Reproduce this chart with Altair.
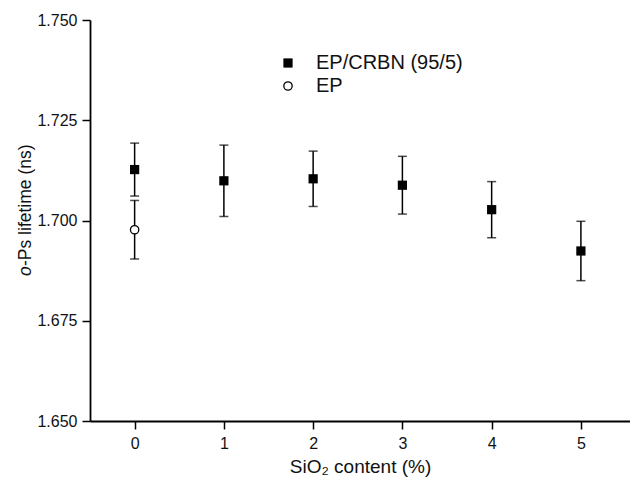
import altair as alt
import pandas as pd

sio2 = [0, 1, 2, 3, 4, 5]
ep_crbn = [1.7127, 1.7099, 1.7104, 1.7088, 1.7027, 1.6924]
ep_crbn_err = [0.0066, 0.0089, 0.0069, 0.0072, 0.0070, 0.0074]
ep_x = [0]
ep = [1.6977]
ep_err = [0.0073]
legend_labels = ["EP/CRBN (95/5)", "EP"]
y_ticks = [1.650, 1.675, 1.700, 1.725, 1.750]
x_ticks = [0, 1, 2, 3, 4, 5]

FONT = "Liberation Sans"

d1 = pd.DataFrame({"x": sio2, "y": ep_crbn, "err": ep_crbn_err})
d1["lo"] = d1["y"] - d1["err"]
d1["hi"] = d1["y"] + d1["err"]
d2 = pd.DataFrame({"x": ep_x, "y": ep, "err": ep_err})
d2["lo"] = d2["y"] - d2["err"]
d2["hi"] = d2["y"] + d2["err"]

xs = alt.Scale(domain=[-0.5, 5.55], nice=False, zero=False)
ys = alt.Scale(domain=[1.650, 1.750], nice=False, zero=False)

xax = alt.Axis(values=x_ticks, format="d", title="SiO₂ content (%)", grid=False,
               domainColor="black", domainWidth=1.8, tickColor="black", tickWidth=1.5,
               tickSize=8, labelFontSize=16, labelFont=FONT, labelColor="#111",
               labelPadding=6, titleFont=FONT, titleFontSize=19, titleFontWeight="normal",
               titleColor="#111", titlePadding=6)
yax = alt.Axis(values=y_ticks, format=".3f", title=None, grid=False,
               domainColor="black", domainWidth=1.8, tickColor="black", tickWidth=1.5,
               tickSize=8, labelFontSize=16, labelFont=FONT, labelColor="#111",
               labelPadding=5)

def layer_for(df, shape, filled):
    rule = alt.Chart(df).mark_rule(color="black", strokeWidth=1.5).encode(
        x=alt.X("x:Q", scale=xs, axis=xax), y=alt.Y("lo:Q", scale=ys, axis=yax), y2="hi:Q")
    cap_lo = alt.Chart(df).mark_tick(color="black", orient="horizontal", size=9, thickness=1.5).encode(
        x=alt.X("x:Q", scale=xs), y=alt.Y("lo:Q", scale=ys))
    cap_hi = alt.Chart(df).mark_tick(color="black", orient="horizontal", size=9, thickness=1.5).encode(
        x=alt.X("x:Q", scale=xs), y=alt.Y("hi:Q", scale=ys))
    pt = alt.Chart(df).mark_point(shape=shape, filled=True, size=85 if filled else 70,
                                  fill="black" if filled else "white", stroke="black",
                                  strokeWidth=0 if filled else 1.3, opacity=1).encode(
        x=alt.X("x:Q", scale=xs), y=alt.Y("y:Q", scale=ys))
    return [rule, cap_lo, cap_hi, pt]

legend_df = pd.DataFrame({"label": legend_labels})
leg_sq = alt.Chart(legend_df.iloc[[0]]).mark_point(shape="square", filled=True, size=85, fill="black", opacity=1).encode(
    x=alt.value(198), y=alt.value(43))
leg_ci = alt.Chart(legend_df.iloc[[1]]).mark_point(shape="circle", filled=True, size=70, fill="white",
                                                    stroke="black", strokeWidth=1.3, opacity=1).encode(
    x=alt.value(198), y=alt.value(66))
leg_t1 = alt.Chart(legend_df.iloc[[0]]).mark_text(align="left", baseline="middle", font=FONT, fontSize=20, color="#111").encode(
    x=alt.value(226), y=alt.value(43), text="label:N")
leg_t2 = alt.Chart(legend_df.iloc[[1]]).mark_text(align="left", baseline="middle", font=FONT, fontSize=20, color="#111").encode(
    x=alt.value(226), y=alt.value(66), text="label:N")

title_df = pd.DataFrame({"a": ["o"], "b": ["-Ps lifetime (ns)"]})
t_o = alt.Chart(title_df).mark_text(angle=270, align="left", baseline="middle", font=FONT, fontSize=17.5,
                                    fontStyle="italic", color="#111").encode(
    x=alt.value(-64), y=alt.value(256), text="a:N")
t_rest = alt.Chart(title_df).mark_text(angle=270, align="left", baseline="middle", font=FONT, fontSize=17.5,
                                       color="#111").encode(
    x=alt.value(-64), y=alt.value(246), text="b:N")

layers = layer_for(d1, "square", True) + layer_for(d2, "circle", False) + [leg_sq, leg_ci, leg_t1, leg_t2, t_o, t_rest]

chart = alt.layer(*layers).properties(
    width=540, height=401,
    padding={"left": 82, "top": 12, "right": 0, "bottom": 58},
    autosize=alt.AutoSizeParams(type="none"),
    background="white",
).configure_view(stroke=None)

chart.save("out.html", embed_options={"renderer": "svg", "actions": False})
